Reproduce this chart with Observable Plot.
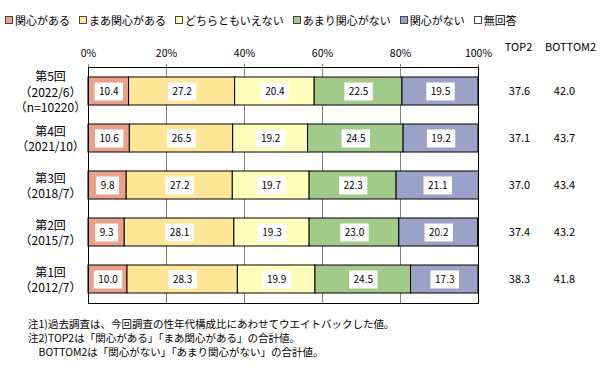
<!DOCTYPE html>
<html><head><meta charset="utf-8">
<script src="https://cdn.jsdelivr.net/npm/d3@7"></script>
<script src="https://cdn.jsdelivr.net/npm/@observablehq/plot@0.6"></script>
<style>
body{margin:0;background:#fff;font-family:"Noto Sans CJK JP",sans-serif;}
#wrap{position:relative;width:610px;height:384px;overflow:hidden;}
#chart{position:absolute;left:0;top:0;}
#legend{position:absolute;left:5px;top:12px;font-size:11px;line-height:16px;display:flex;white-space:nowrap;}
#legend .item{display:flex;align-items:center;margin-right:9px;}
#legend .sw{width:6px;height:6px;border:1px solid #444;margin-right:2px;}
#notes{position:absolute;left:28px;top:317px;font-size:10.5px;line-height:14px;white-space:pre;}
</style></head><body>
<div id="wrap"><div id="chart"></div><div id="legend"></div><div id="notes"></div></div>
<script>
const roundLabels = ["第5回\n（2022/6）\n（n=10220）", "第4回\n（2021/10）", "第3回\n（2018/7）", "第2回\n（2015/7）", "第1回\n（2012/7）"];
const categories = ["関心がある", "まあ関心がある", "どちらともいえない", "あまり関心がない", "関心がない", "無回答"];
const colors = ["#EBA08B", "#FFE699", "#FFFFBB", "#A2CA8A", "#9BA2C7", "#FFFFFF"];
const kanshinAru = [10.4, 10.6, 9.8, 9.3, 10.0];
const maaKanshinAru = [27.2, 26.5, 27.2, 28.1, 28.3];
const dochiraTomo = [20.4, 19.2, 19.7, 19.3, 19.9];
const amariKanshinNai = [22.5, 24.5, 22.3, 23.0, 24.5];
const kanshinNai = [19.5, 19.2, 21.1, 20.2, 17.3];
const mukaito = [0, 0, 0, 0, 0];
const top2 = [37.6, 37.1, 37.0, 37.4, 38.3];
const bottom2 = [42.0, 43.7, 43.4, 43.2, 41.8];
const xTicks = [0, 20, 40, 60, 80, 100];
const notes = ["注1)過去調査は、今回調査の性年代構成比にあわせてウエイトバックした値。", "注2)TOP2は「関心がある」「まあ関心がある」の合計値。", "　BOTTOM2は「関心がない」「あまり関心がない」の合計値。"];

const seriesList = [kanshinAru, maaKanshinAru, dochiraTomo, amariKanshinNai, kanshinNai, mukaito];
const rows = roundLabels.flatMap((r, i) => categories.map((c, j) => ({round: r, cat: c, value: seriesList[j][i]}))).filter(d => d.value > 0);

const measureCtx = document.createElement("canvas").getContext("2d");
measureCtx.font = "10px 'Noto Sans CJK JP'";
function boxRender(index, scales, values, dimensions, context, next) {
  const g = next(index, scales, values, dimensions, context);
  const first = g.firstChild;
  for (const i of index) {
    const t = rows[i].value.toFixed(1);
    const w = measureCtx.measureText(t).width + 9;
    const rect = document.createElementNS("http://www.w3.org/2000/svg", "rect");
    rect.setAttribute("x", values.x[i] - w / 2);
    rect.setAttribute("y", values.y[i] - 9);
    rect.setAttribute("width", w);
    rect.setAttribute("height", 18);
    rect.setAttribute("fill", "white");
    rect.setAttribute("stroke", "none");
    g.insertBefore(rect, first);
  }
  return g;
}

const chart = Plot.plot({
  width: 610, height: 384,
  marginTop: 67, marginBottom: 81, marginLeft: 88, marginRight: 132,
  style: {fontFamily: "'Noto Sans CJK JP', sans-serif", background: "white", color: "black"},
  x: {domain: [0, 100], axis: null, label: null},
  y: {domain: roundLabels, paddingInner: 0.407, paddingOuter: 0.2035, axis: null, label: null},
  color: {domain: categories, range: colors},
  marks: [
    Plot.gridX([20, 40, 60, 80], {stroke: "#808080", strokeOpacity: 1, strokeWidth: 1}),
    Plot.axisX({anchor: "top", ticks: xTicks, tickFormat: d => d + "%", tickSize: 4, tickPadding: 7, fontSize: 10.5, stroke: "#808080", label: null}),
    Plot.barX(rows, {x: "value", y: "round", fill: "cat", stroke: "black", strokeWidth: 1}),
    Plot.text(rows, Plot.stackX({x: "value", y: "round", z: "cat", text: d => d.value.toFixed(1), fontSize: 10, fill: "black", render: boxRender})),
    Plot.frame({stroke: "black", strokeWidth: 1}),
    Plot.text(roundLabels, {y: d => d, text: d => d, frameAnchor: "left", dx: -38, textAnchor: "middle", fontSize: 12, lineHeight: 1.3}),
    Plot.text(roundLabels, {y: d => d, text: (d, i) => top2[i].toFixed(1), frameAnchor: "right", dx: 41, textAnchor: "middle", fontSize: 11}),
    Plot.text(roundLabels, {y: d => d, text: (d, i) => bottom2[i].toFixed(1), frameAnchor: "right", dx: 86, textAnchor: "middle", fontSize: 11}),
    Plot.text(["TOP2"], {text: d => d, frameAnchor: "top-right", dx: 40, dy: -24, textAnchor: "middle", fontSize: 11}),
    Plot.text(["BOTTOM2"], {text: d => d, frameAnchor: "top-right", dx: 92, dy: -24, textAnchor: "middle", fontSize: 11})
  ]
});
document.getElementById("chart").appendChild(chart);

const legend = document.getElementById("legend");
categories.forEach((c, j) => {
  const item = document.createElement("div");
  item.className = "item";
  const sw = document.createElement("span");
  sw.className = "sw";
  sw.style.background = colors[j];
  const lab = document.createElement("span");
  lab.textContent = c;
  item.appendChild(sw); item.appendChild(lab);
  legend.appendChild(item);
});
document.getElementById("notes").textContent = notes.join("\n");
</script>
</body></html>
